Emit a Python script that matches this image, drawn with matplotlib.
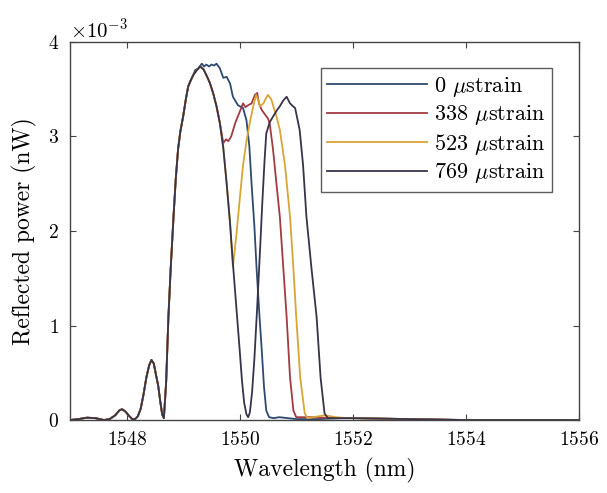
import matplotlib
matplotlib.use("Agg")
import matplotlib.pyplot as plt
import numpy as np

plt.rcParams["font.family"] = "cmr10"
plt.rcParams["mathtext.fontset"] = "cm"
plt.rcParams["axes.formatter.use_mathtext"] = True

# shared side lobes before the main peak (nm, 1e-3 nW)
wl_pre = [1547.0, 1547.15, 1547.3, 1547.45, 1547.6, 1547.7, 1547.8, 1547.87, 1547.92,
          1547.98, 1548.05, 1548.1, 1548.15, 1548.2, 1548.25, 1548.3, 1548.35, 1548.4,
          1548.44, 1548.48, 1548.52, 1548.56, 1548.6, 1548.63, 1548.66]
p_pre = [0.0, 0.01, 0.025, 0.02, 0.0, 0.01, 0.05, 0.1, 0.115,
         0.09, 0.04, 0.01, 0.01, 0.04, 0.12, 0.27, 0.45, 0.58,
         0.635, 0.6, 0.48, 0.36, 0.18, 0.06, 0.02]

# rising edge of the main lobe
wl_rise = [1548.7, 1548.74, 1548.78, 1548.83, 1548.87, 1548.91, 1548.95, 1549.0,
           1549.05, 1549.09, 1549.14, 1549.18]
p_rise = [0.4, 1.09, 1.6, 2.15, 2.55, 2.86, 3.05, 3.21,
          3.4, 3.53, 3.6, 3.65]

tail_wl = [1552.0, 1552.5, 1553.0, 1554.0, 1555.0, 1556.0]
tail_p = [0.02, 0.015, 0.01, 0.0, 0.0, 0.0]

# 0 ustrain
wl_0 = [1549.21, 1549.27, 1549.33, 1549.37, 1549.41, 1549.46, 1549.5, 1549.55, 1549.59,
        1549.65, 1549.71, 1549.77, 1549.83, 1549.88, 1549.97, 1550.06, 1550.12,
        1550.17, 1550.21, 1550.26, 1550.3, 1550.35, 1550.39, 1550.43, 1550.47, 1550.52,
        1550.6, 1550.7, 1550.85, 1551.0, 1551.4, 1551.8]
p_0 = [3.7, 3.72, 3.77, 3.74, 3.76, 3.74, 3.76, 3.75, 3.77,
       3.72, 3.62, 3.63, 3.56, 3.42, 3.33, 3.3, 3.17,
       2.9, 2.5, 2.05, 1.59, 1.1, 0.74, 0.35, 0.1, 0.03,
       0.02, 0.03, 0.02, 0.01, 0.01, 0.02]

# 338 ustrain
wl_338 = [1549.24, 1549.3, 1549.36, 1549.41, 1549.47, 1549.53, 1549.59, 1549.65, 1549.71,
          1549.76, 1549.8, 1549.85, 1549.92, 1550.0, 1550.06, 1550.1, 1550.15, 1550.21,
          1550.27, 1550.31, 1550.34, 1550.39, 1550.45, 1550.5, 1550.53, 1550.59, 1550.65,
          1550.71, 1550.77, 1550.83, 1550.89, 1550.95, 1551.0, 1551.3, 1551.6, 1551.8]
p_338 = [3.7, 3.74, 3.71, 3.65, 3.57, 3.46, 3.32, 3.14, 2.93,
         2.97, 2.95, 3.0, 3.14, 3.26, 3.35, 3.31, 3.33, 3.35,
         3.44, 3.46, 3.35, 3.28, 3.23, 3.19, 3.14, 2.86, 2.5,
         2.15, 1.62, 1.09, 0.45, 0.1, 0.03, 0.03, 0.02, 0.02]

# 523 ustrain
wl_523 = [1549.24, 1549.3, 1549.36, 1549.41, 1549.47, 1549.53, 1549.59, 1549.65, 1549.71,
          1549.77, 1549.83, 1549.88, 1549.94, 1550.0, 1550.06, 1550.12, 1550.18, 1550.24,
          1550.29, 1550.33, 1550.36, 1550.42, 1550.46, 1550.5, 1550.56, 1550.65, 1550.71,
          1550.8, 1550.89, 1550.95, 1551.0, 1551.07, 1551.15, 1551.2, 1551.3, 1551.5,
          1551.7, 1551.9]
p_523 = [3.7, 3.74, 3.71, 3.65, 3.57, 3.46, 3.32, 3.14, 2.88,
         2.5, 2.08, 1.62, 1.95, 2.33, 2.7, 2.95, 3.15, 3.32,
         3.44, 3.38, 3.32, 3.35, 3.4, 3.44, 3.39, 3.21, 3.07,
         2.7, 2.15, 1.6, 1.09, 0.45, 0.07, 0.02, 0.03, 0.05,
         0.03, 0.02]

# 769 ustrain
wl_769 = [1549.24, 1549.3, 1549.36, 1549.41, 1549.47, 1549.53, 1549.59, 1549.65, 1549.71,
          1549.77, 1549.83, 1549.88, 1549.94, 1550.0, 1550.04, 1550.08, 1550.12, 1550.15,
          1550.18, 1550.22, 1550.26, 1550.31, 1550.36, 1550.4, 1550.44, 1550.47, 1550.53,
          1550.59, 1550.65, 1550.71, 1550.77, 1550.83, 1550.89, 1550.94, 1550.98, 1551.06,
          1551.12, 1551.18, 1551.27, 1551.36, 1551.43, 1551.5, 1551.56, 1551.7, 1551.85]
p_769 = [3.7, 3.74, 3.71, 3.65, 3.57, 3.46, 3.32, 3.14, 2.88,
         2.5, 2.08, 1.66, 1.2, 0.74, 0.42, 0.18, 0.06, 0.03,
         0.08, 0.3, 0.65, 1.2, 1.8, 2.3, 2.75, 3.03, 3.15,
         3.21, 3.27, 3.32, 3.38, 3.42, 3.35, 3.32, 3.3, 3.07,
         2.7, 2.15, 1.6, 1.09, 0.45, 0.07, 0.02, 0.02, 0.02]

labels = [r"0 $\mu$strain", r"338 $\mu$strain", r"523 $\mu$strain", r"769 $\mu$strain"]
colors = ["#2e4a6e", "#a23a42", "#d9a534", "#38334a"]
series = [(wl_0, p_0), (wl_338, p_338), (wl_523, p_523), (wl_769, p_769)]

fig = plt.figure(figsize=(6.07, 4.93), dpi=100)
ax = fig.add_axes([0.1153, 0.148, 0.8387, 0.767])

for (wl, p), c, lab in zip(series, colors, labels):
    x = np.array(wl_pre + wl_rise + wl + tail_wl)
    y = np.array(p_pre + p_rise + p + tail_p) * 1e-3
    ax.plot(x, y, color=c, lw=1.3, label=lab)

ax.set_xlim(1547, 1556)
ax.set_ylim(0, 4e-3)
ax.set_xticks([1548, 1550, 1552, 1554, 1556])
ax.set_yticks([0, 1e-3, 2e-3, 3e-3, 4e-3])
ax.ticklabel_format(axis="y", style="sci", scilimits=(0, 0), useMathText=True)
ax.tick_params(direction="in", length=4, width=0.8, labelsize=14, color="#444444",
               top=True, right=True, pad=8)
off = ax.yaxis.get_offset_text()
off.set_fontsize(15)
off.set_horizontalalignment("left")
for s in ax.spines.values():
    s.set_color("#444444")
    s.set_linewidth(1.0)
ax.set_xlabel("Wavelength (nm)", fontsize=17, labelpad=6)
ax.set_ylabel("Reflected power (nW)", fontsize=17, labelpad=8)

leg = ax.legend(loc="upper right", bbox_to_anchor=(0.947, 0.93), fontsize=16, frameon=True,
                fancybox=False, edgecolor="#333333", handlelength=4.5, borderpad=0.3,
                labelspacing=0.2, handletextpad=0.3, borderaxespad=0)
leg.get_frame().set_linewidth(1.0)

fig.savefig("out.png", dpi=100)
